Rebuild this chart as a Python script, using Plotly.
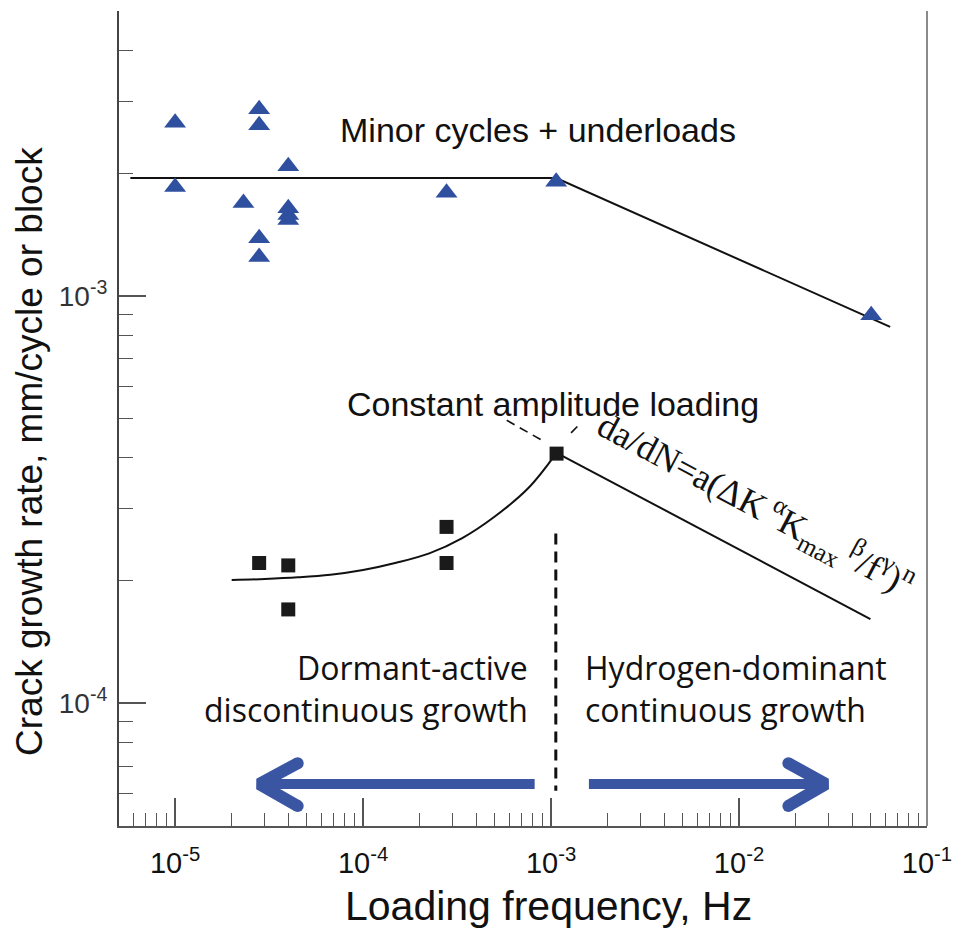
import numpy as np
import plotly.graph_objects as go

# ---------------- data ----------------
# Minor cycles + underloads (blue triangles)
tri_freq = [1e-5, 1e-5, 2.31e-5, 2.8e-5, 2.8e-5, 2.8e-5, 2.8e-5,
            4.0e-5, 4.0e-5, 4.0e-5, 4.0e-5, 2.78e-4, 1.065e-3, 5.05e-2]
tri_rate = [2.66e-3, 1.85e-3, 1.69e-3, 2.87e-3, 2.62e-3, 1.385e-3, 1.245e-3,
            2.08e-3, 1.64e-3, 1.58e-3, 1.535e-3, 1.79e-3, 1.905e-3, 8.96e-4]
tri_fit_freq = [5.78e-6, 1.065e-3, 6.37e-2]
tri_fit_rate = [1.946e-3, 1.946e-3, 8.39e-4]

# Constant amplitude loading (black squares)
sq_freq = [2.8e-5, 4.0e-5, 4.0e-5, 2.78e-4, 2.78e-4, 1.07e-3]
sq_rate = [2.21e-4, 2.18e-4, 1.70e-4, 2.71e-4, 2.21e-4, 4.10e-4]
ca_curve_freq = [2.0e-5, 3.0e-5, 4.5e-5, 6.7e-5, 1.0e-4, 1.5e-4, 2.25e-4,
                 3.37e-4, 5.0e-4, 7.55e-4, 1.07e-3]
ca_curve_rate = [2.007e-4, 2.019e-4, 2.038e-4, 2.068e-4, 2.124e-4, 2.213e-4, 2.334e-4,
                 2.544e-4, 2.870e-4, 3.370e-4, 4.118e-4]
ca_down_freq = [1.07e-3, 5.0e-2]
ca_down_rate = [4.12e-4, 1.61e-4]

# Regime boundary and pointers
boundary_freq = [1.06e-3, 1.06e-3]
boundary_rate = [2.61e-4, 6.1e-5]
ptr_left_freq = [5.81e-4, 8.87e-4]
ptr_left_rate = [4.95e-4, 4.43e-4]
ptr_right_freq = [1.38e-3, 1.25e-3]
ptr_right_rate = [4.78e-4, 4.56e-4]

# Regime arrows
arrow_rate = [6.34e-5, 6.34e-5]
left_shaft_freq = [8.18e-4, 2.75e-5]
left_head_freq = [4.49e-5, 2.80e-5, 4.49e-5]
right_shaft_freq = [1.59e-3, 2.95e-2]
right_head_freq = [1.83e-2, 2.90e-2, 1.83e-2]
head_rate = [7.13e-5, 6.34e-5, 5.60e-5]

# Axes
x_range = [5.03e-6, 1e-1]
y_range = [5e-5, 5e-3]
x_major = [1e-5, 1e-4, 1e-3, 1e-2, 1e-1]
x_major_text = ["10<sup>-5</sup>", "10<sup>-4</sup>", "10<sup>-3</sup>", "10<sup>-2</sup>", "10<sup>-1</sup>"]
y_major = [1e-4, 1e-3]
y_major_text = ["10<sup>-4</sup>", "10<sup>-3</sup>"]
x_minor = [m * 10.0 ** e for e in range(-6, -1) for m in range(2, 10)]
y_minor = [m * 10.0 ** e for e in range(-5, -2) for m in range(2, 10)]

# Text labels
lbl_minor = ("Minor cycles + underloads", 8.53e-4, 2.55e-3)
lbl_const = ("Constant amplitude loading", 1.03e-3, 5.44e-4)
lbl_dorm = ("Dormant-active<br>discontinuous growth", 7.70e-4, 1.085e-4)
lbl_hydro = ("Hydrogen-dominant<br>continuous growth", 1.48e-3, 1.085e-4)
lbl_eq = ("da/dN=a(ΔK<sup> α</sup>K<sub>max</sub><sup> β</sup>/f<sup>γ</sup>)<sup>n</sup>", 1.23e-2, 3.07e-4)

BLUE = "#2F4F9F"
ARROW_BLUE = "#3A56A3"
SANS = "Liberation Sans, Arial, sans-serif"
CAL = "Open Sans, sans-serif"

fig = go.Figure()

fig.add_trace(go.Scatter(x=tri_fit_freq, y=tri_fit_rate, mode="lines",
                         line=dict(color="#111", width=2)))
fig.add_trace(go.Scatter(x=tri_freq, y=tri_rate, mode="markers",
                         marker=dict(symbol="triangle-up", size=19, color=BLUE,
                                     line=dict(width=0))))
fig.add_trace(go.Scatter(x=ca_curve_freq, y=ca_curve_rate, mode="lines",
                         line=dict(color="#111", width=2, shape="spline", smoothing=1.0)))
fig.add_trace(go.Scatter(x=ca_down_freq, y=ca_down_rate, mode="lines",
                         line=dict(color="#111", width=2)))
fig.add_trace(go.Scatter(x=sq_freq, y=sq_rate, mode="markers",
                         marker=dict(symbol="square", size=14, color="#1a1a1a",
                                     line=dict(width=0))))
fig.add_trace(go.Scatter(x=boundary_freq, y=boundary_rate, mode="lines",
                         line=dict(color="#111", width=3, dash="11px,7px")))
for fx, fy in [(ptr_left_freq, ptr_left_rate), (ptr_right_freq, ptr_right_rate)]:
    fig.add_trace(go.Scatter(x=fx, y=fy, mode="lines",
                             line=dict(color="#111", width=1.6, dash="9px,6px")))
# arrows
for sx, hx in [(left_shaft_freq, left_head_freq), (right_shaft_freq, right_head_freq)]:
    fig.add_trace(go.Scatter(x=sx, y=arrow_rate, mode="lines",
                             line=dict(color=ARROW_BLUE, width=10)))
    fig.add_trace(go.Scatter(x=hx, y=head_rate, mode="lines+markers",
                             line=dict(color=ARROW_BLUE, width=12),
                             marker=dict(size=[12, 0, 12], color=ARROW_BLUE, opacity=1,
                                         line=dict(width=0))))

def ann(t, x, y, **kw):
    d = dict(text=t, x=np.log10(x), y=np.log10(y), xref="x", yref="y",
             showarrow=False)
    d.update(kw)
    fig.add_annotation(**d)

ann(*lbl_minor, font=dict(family=SANS, size=34, color="#111"))
ann(*lbl_const, font=dict(family=SANS, size=34, color="#111"))
ann(*lbl_dorm, xanchor="right", align="right", font=dict(family=CAL, size=32, color="#111"))
ann(*lbl_hydro, xanchor="left", align="left", font=dict(family=CAL, size=32, color="#111"))
ann(*lbl_eq, textangle=28,
    font=dict(family="Liberation Serif, Times New Roman, serif", size=36, color="#111"))

# axis titles
fig.add_annotation(text="Loading frequency, Hz", x=0.5314, y=-0.098, xref="paper", yref="paper",
                   showarrow=False, xanchor="center", yanchor="middle",
                   font=dict(family=SANS, size=41, color="#111"))
fig.add_annotation(text="Crack growth rate, mm/cycle or block", x=-0.1116, y=0.46,
                   xref="paper", yref="paper", showarrow=False, textangle=-90,
                   xanchor="center", yanchor="middle",
                   font=dict(family=SANS, size=37, color="#111"))

# right border
fig.add_shape(type="line", xref="paper", yref="paper", x0=1, x1=1, y0=0, y1=1,
              line=dict(color="#8a8a8a", width=2))

fig.update_xaxes(type="log", range=[np.log10(x_range[0]), np.log10(x_range[1])],
                 tickmode="array", tickvals=x_major, ticktext=x_major_text,
                 ticks="inside", ticklen=28, tickwidth=1.5, tickcolor="#555",
                 minor=dict(tickmode="array", tickvals=x_minor, ticks="inside", ticklen=13,
                            tickwidth=1.3, tickcolor="#555", showgrid=False),
                 showline=True, linecolor="#555", linewidth=2, showgrid=False, zeroline=False,
                 tickfont=dict(family=SANS, size=29, color="#111"), ticklabelstandoff=10)
fig.update_yaxes(type="log", range=[np.log10(y_range[0]), np.log10(y_range[1])],
                 tickmode="array", tickvals=y_major, ticktext=y_major_text,
                 ticks="inside", ticklen=27, tickwidth=1.5, tickcolor="#555",
                 minor=dict(tickmode="array", tickvals=y_minor, ticks="inside", ticklen=14,
                            tickwidth=1.3, tickcolor="#555", showgrid=False),
                 showline=True, linecolor="#444", linewidth=2, showgrid=False, zeroline=False,
                 tickfont=dict(family=SANS, size=28, color="#333"), ticklabelstandoff=4)

fig.update_layout(width=963, height=931, margin=dict(l=119, r=26, t=11, b=105),
                  paper_bgcolor="white", plot_bgcolor="white", showlegend=False)

fig.write_html("out.html")
